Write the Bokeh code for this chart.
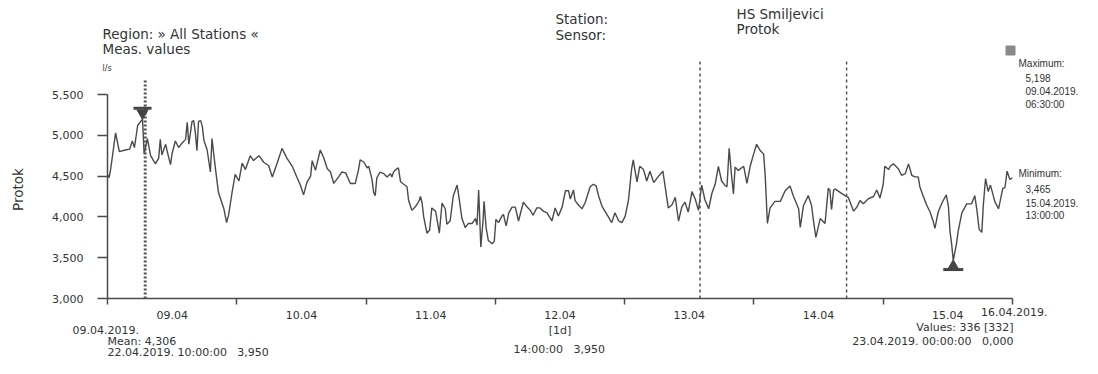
from math import pi
from bokeh.plotting import figure
from bokeh.models import Range1d, FixedTicker, NumeralTickFormatter, Label
from bokeh.embed import file_html
from bokeh.resources import INLINE

# ---------------- data (hours since 09.04.2019 00:00, Protok l/s) ----------------
hours = [0.0, 0.3, 0.6, 1.5, 2.2, 3.3, 4.1, 4.6, 5.0, 5.6, 6.5, 6.8, 7.4, 8.0, 8.9, 9.5, 9.8, 10.1,
         10.8, 11.1, 11.7, 12.0, 12.6, 13.2, 13.9, 14.5, 14.8, 15.1, 15.7, 16.0, 16.3, 16.6, 16.9,
         17.3, 17.6, 17.9, 18.5, 19.1, 19.4, 20.0, 20.6, 21.6, 22.1, 22.5, 23.1, 23.7, 24.4, 25.0,
         25.6, 26.5, 27.1, 28.1, 29.0, 29.9, 30.6, 31.5, 32.4, 33.3, 34.3, 35.2, 35.8, 36.4, 37.0,
         37.7, 38.0, 38.6, 39.5, 40.1, 40.8, 41.4, 42.0, 42.9, 43.5, 44.2, 45.1,
         46.0, 46.6, 46.9, 47.6, 48.2, 48.5, 49.1, 49.4, 49.7, 50.0, 50.6, 51.3, 51.9, 52.5, 52.8,
         53.1, 53.7, 54.0, 54.4, 55.0, 55.6, 55.9, 56.5, 57.1, 57.8, 58.1, 58.4, 58.7, 59.3, 59.8,
         60.2, 60.9, 61.2, 61.6, 62.1, 62.7, 63.0, 63.6, 64.2, 64.9, 65.2, 65.8, 66.4, 67.0, 67.7,
         68.3, 68.6, 68.9, 69.1, 69.3, 69.7, 69.9, 70.3, 70.7, 71.4, 71.8, 72.1, 72.6, 73.2, 73.5,
         74.0, 74.5, 75.1, 75.7, 76.3, 77.2, 77.9, 78.5, 79.0, 79.7, 80.3, 80.9, 81.6, 82.5, 83.1,
         83.7, 84.4, 85.0, 85.6, 85.9, 86.5, 86.8, 87.5, 88.1, 88.7, 89.6,
         90.2, 90.7, 91.2, 91.8, 92.7, 93.6, 94.2, 94.9, 95.5, 96.1, 96.7, 97.3, 97.6, 98.0, 98.3,
         98.8, 99.5, 100.1, 100.7, 101.4, 102.3, 103.1, 103.5, 104.1, 104.8, 105.4, 106.0, 106.6,
         107.2, 107.8, 108.5, 109.1, 109.7, 110.3, 110.9, 111.6, 112.2, 112.8, 113.4, 114.0, 114.7,
         115.0, 115.4, 115.9, 116.2, 116.5, 117.1, 118.1, 118.7, 119.3, 119.9, 120.5, 121.2, 121.8,
         122.1, 122.5, 123.0, 123.9, 124.9, 125.8, 126.7, 127.3, 128.3, 128.6, 129.2, 130.1, 130.7,
         131.0, 131.5, 132.3, 133.2, 133.8, 134.1,
         134.4, 134.8, 135.1, 136.0, 136.9, 137.5, 138.2, 138.5, 139.1, 139.7, 140.3, 141.2, 142.2,
         142.8, 143.4, 144.0, 144.3, 145.0, 145.3, 145.9, 146.8, 147.4, 148.1, 148.7, 149.3, 149.9,
         150.5, 150.8, 151.4, 152.1, 152.7, 153.3, 153.6, 154.2, 154.9, 155.7, 156.1, 156.4, 156.7,
         157.0, 157.6, 157.9, 158.6, 159.5, 160.4, 161.0, 161.4, 161.8, 162.3, 162.6, 163.0, 163.5,
         163.9, 164.4, 164.7, 165.4, 165.7, 166.2, 166.6, 167.0, 167.5, 168.0]
protok = [4520, 4480, 4590, 5030, 4800, 4820, 4830, 4930, 4850, 5120, 5198, 4770, 4960, 4750, 4650,
          4720, 4950, 4760, 4890, 4800, 4640, 4780, 4930, 4850, 4910, 4950, 5160, 4890, 5170, 5180,
          5040, 4810, 5170, 5180, 5110, 4940, 4820, 4550, 4960, 4610, 4300, 4100, 3930, 4030, 4290,
          4520, 4440, 4660, 4580, 4750, 4690, 4750, 4670, 4630, 4490, 4660, 4840, 4720, 4620, 4480,
          4390, 4270, 4420, 4500, 4690, 4570, 4820, 4730, 4590, 4550, 4410, 4490, 4550, 4540, 4410,
          4410, 4580, 4700, 4670, 4600, 4620, 4460, 4300, 4260, 4480, 4550, 4530, 4490, 4530, 4490,
          4550, 4590, 4600, 4430, 4400, 4370, 4200, 4080, 4120, 4190, 4250, 4170, 4000, 3800, 3840,
          4110, 4070, 3960, 3800, 4170, 4100, 3910, 3950, 4260, 4390, 4260, 3980, 3870, 3920, 3920,
          3980, 3900, 4330, 3980, 3630, 3940, 4190, 3860, 3710, 3670, 3700, 3970, 3930, 4010, 4030,
          3890, 4050, 4120, 4120, 3950, 4180, 4120, 4080, 4020, 4110, 4110, 4070, 4050, 3950, 4110,
          4010, 4120, 4320, 4320, 4220, 4330, 4200, 4140, 4100, 4180, 4370,
          4400, 4380, 4250, 4130, 4030, 3930, 4050, 3950, 3930, 4010, 4200, 4590, 4700, 4540, 4430,
          4620, 4580, 4440, 4560, 4420, 4500, 4560, 4380, 4110, 4150, 4240, 3950, 4120, 4180, 4060,
          4310, 4220, 4080, 4390, 4210, 4100, 4290, 4400, 4620, 4440, 4380, 4370, 4840, 4470, 4280,
          4610, 4570, 4620, 4410, 4620, 4760, 4890, 4810, 4770, 4500, 3920, 4110, 4190, 4190, 4320,
          4380, 4260, 4100, 3870, 4140, 4260, 4140, 3980, 3750, 3980, 3920, 4350, 4330,
          4090, 4330, 4340, 4300, 4260, 4240, 4120, 4070, 4120, 4200, 4160, 4220, 4250, 4330, 4230,
          4400, 4620, 4580, 4620, 4650, 4590, 4510, 4530, 4650, 4510, 4490, 4490, 4370, 4260, 4140,
          4060, 3940, 3860, 4060, 4170, 4270, 4130, 3820, 3670, 3465, 3670, 3820, 4050, 4160, 4160,
          4260, 4080, 3850, 3810, 4160, 4470, 4310, 4390, 4270, 4190, 4100, 4190, 4350, 4360, 4560,
          4460, 4480]

day_labels = ["09.04", "10.04", "11.04", "12.04\n[1d]", "13.04", "14.04", "15.04"]
day_ticks = [0, 24, 48, 72, 96, 120, 144, 168]
label_ticks = [12, 36, 60, 84, 108, 132, 156]
y_ticks = [3000, 3500, 4000, 4500, 5000, 5500]
max_hour, max_value = 6.5, 5198
min_hour, min_value = 157.0, 3465
cursor_hours = [7.0, 110.0, 137.2]

# ---------------- layout (canvas pixels, from top-left) ----------------
W, H = 1082, 358
AX_L, AX_R = 107, 1012          # where hour 0 and hour 168 fall
AX_B, AX_T = 298, 94            # where 3,000 and 5,500 fall
PX_PER_H = (AX_R - AX_L) / 168.0
PX_PER_UNIT = (AX_B - AX_T) / 2500.0


def dx(cx):
    return (cx - AX_L) / PX_PER_H


def dy(cy):
    return 3000 + (AX_B - cy) / PX_PER_UNIT


FONT = "DejaVu Sans"
NARROW = "Liberation Sans"
TXT = "#333333"
LINE = "#4a4a4a"
GAP = "\u00a0\u00a0\u00a0"

# the frame covers the whole canvas; the axes sit at fixed data locations
p = figure(width=W, height=H, output_backend="svg", toolbar_location=None,
           x_range=Range1d(dx(0), dx(W)), y_range=Range1d(dy(H), dy(0)),
           min_border=0)
p.xgrid.grid_line_color = None
p.ygrid.grid_line_color = None
p.outline_line_color = None

ya = p.yaxis[0]
ya.fixed_location = 0
ya.ticker = FixedTicker(ticks=y_ticks)
ya.formatter = NumeralTickFormatter(format="0,0")
ya.bounds = (3000, 5500)
ya.major_label_text_font = FONT
ya.major_label_text_font_size = "11px"
ya.major_label_text_color = TXT
ya.major_tick_out = 10
ya.major_tick_in = 0
ya.minor_tick_out = 0
ya.minor_tick_in = 0
ya.major_label_standoff = 14
ya.axis_line_width = 1.5
ya.axis_line_color = LINE
ya.major_tick_line_color = LINE
ya.major_tick_line_width = 1.5

xa = p.xaxis[0]
xa.fixed_location = 3000
xa.bounds = (0, 168)
xa.ticker = FixedTicker(ticks=label_ticks, minor_ticks=day_ticks)
xa.major_label_overrides = {t: lab for t, lab in zip(label_ticks, day_labels)}
xa.major_label_text_font = FONT
xa.major_label_text_font_size = "11px"
xa.major_label_text_color = TXT
xa.major_label_standoff = 4
xa.major_tick_out = 0
xa.major_tick_in = 0
xa.minor_tick_out = 6
xa.minor_tick_in = 0
xa.minor_tick_line_color = LINE
xa.minor_tick_line_width = 1.5
xa.axis_line_width = 1.5
xa.axis_line_color = LINE

# data line
p.line(hours, protok, line_color=LINE, line_width=1.4)

# cursor lines
p.segment(x0=cursor_hours[:1], y0=[3000], x1=cursor_hours[:1], y1=[dy(80)],
          line_color="#555555", line_width=3, line_dash="2 2")
p.segment(x0=cursor_hours[1:], y0=[3000, 3000], x1=cursor_hours[1:], y1=[dy(60), dy(60)],
          line_color="#555555", line_width=1.5, line_dash="3 3")

# max / min markers
p.scatter([max_hour], [max_value + 6 / PX_PER_UNIT], marker="inverted_triangle", size=11,
          fill_color="#444444", line_color="#444444")
p.scatter([max_hour], [max_value + 11 / PX_PER_UNIT], marker="dash", size=18,
          line_color="#444444", line_width=3)
p.scatter([min_hour], [min_value - 5 / PX_PER_UNIT], marker="triangle", size=10,
          fill_color="#444444", line_color="#444444")
p.scatter([min_hour], [min_value - 9 / PX_PER_UNIT], marker="dash", size=20,
          line_color="#444444", line_width=3)

# legend swatch of the right panel
p.scatter([dx(1010)], [dy(50)], marker="square", size=9, fill_color="#8a8a8a",
          line_color="#8a8a8a")


def lab(text, cx, cy, size="11px", align="left", color=TXT, angle=0.0, font=FONT):
    p.add_layout(Label(x=dx(cx), y=dy(cy), text=text, text_font=font, text_font_size=size,
                       text_align=align, text_baseline="middle", text_color=color,
                       angle=angle))


# axis title
lab("Protok", 17, 189, size="13.5px", align="center", angle=pi / 2)

# header
lab("Region: \u00bb All Stations \u00ab", 102, 33, size="13.5px")
lab("Meas. values", 102, 48, size="13.5px")
lab("l/s", 102, 68, size="8px")
lab("Station:", 555, 18, size="13.5px")
lab("Sensor:", 555, 34, size="13.5px")
lab("HS Smiljevici", 736, 13, size="13.5px")
lab("Protok", 736, 28, size="13.5px")

# right panel
for text, cx, cy in [("Maximum:", 1018, 63), ("5,198", 1025, 77), ("09.04.2019.", 1025, 90),
                     ("06:30:00", 1025, 104), ("Minimum:", 1018, 173), ("3,465", 1025, 188),
                     ("15.04.2019.", 1025, 202), ("13:00:00", 1025, 215)]:
    lab(text, cx, cy, size="10px", font=NARROW)

# bottom
lab("09.04.2019.", 72, 329)
lab("Mean: 4,306", 107, 341)
lab("22.04.2019. 10:00:00" + GAP + "3,950", 107, 352)
lab("14:00:00" + GAP + "3,950", 513, 349)
lab("16.04.2019.", 1047, 311, align="right")
lab("Values: 336 [332]", 1013, 327, align="right")
lab("23.04.2019. 00:00:00" + GAP + "0,000", 1013, 341, align="right")

open("out.html", "w").write(file_html(p, INLINE))
